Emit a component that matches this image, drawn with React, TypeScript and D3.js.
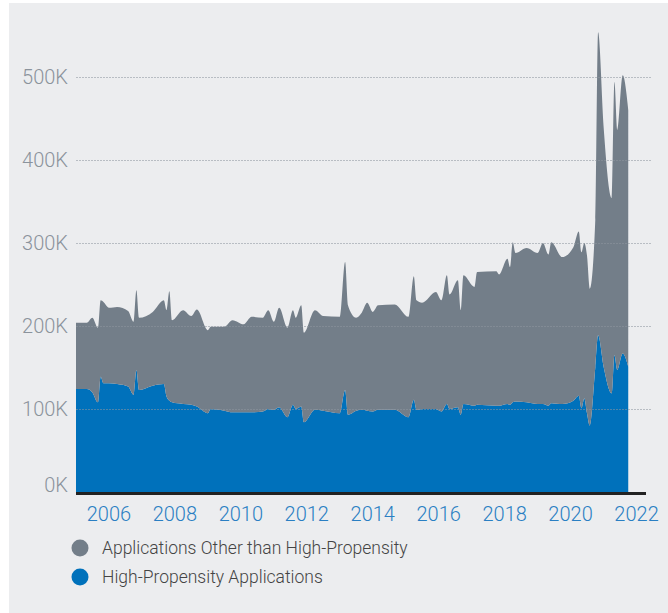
import * as d3 from "d3";
import React, { useEffect, useRef } from "react";

// monthly points (values in thousands)
const months = [
  "2005-01", "2005-05", "2005-07", "2005-09", "2005-10", "2005-11", "2006-01", "2006-04",
  "2006-08", "2006-10", "2006-11", "2006-12", "2007-05", "2007-09", "2007-10", "2007-11",
  "2007-12", "2008-04", "2008-07", "2008-09", "2009-01", "2009-02", "2009-07", "2009-10",
  "2010-02", "2010-05", "2010-09", "2010-11", "2011-01", "2011-03", "2011-06", "2011-08",
  "2011-09", "2011-11", "2011-12", "2012-04", "2012-07", "2013-01", "2013-03", "2013-04",
  "2013-07", "2013-09", "2013-11", "2014-01", "2014-03", "2014-09", "2015-02", "2015-04",
  "2015-05", "2015-07", "2015-12", "2016-02", "2016-04", "2016-05", "2016-08", "2016-09",
  "2016-10", "2017-02", "2017-03", "2017-10", "2017-11", "2018-02", "2018-03", "2018-04",
  "2018-05", "2018-09", "2019-01", "2019-03", "2019-05", "2019-06", "2019-10", "2020-02",
  "2020-04", "2020-05", "2020-06", "2020-07", "2020-08", "2020-10", "2020-11", "2021-01",
  "2021-04", "2021-05", "2021-06", "2021-08", "2021-10",
];

const highPropensity = [
  124, 124, 120, 108, 139, 131, 131, 130,
  127, 117, 147, 123, 128, 130, 115, 110,
  108, 106, 105, 103, 95, 100, 98, 96,
  96, 96, 97, 100, 99, 102, 90, 105,
  100, 103, 84, 99, 98, 95, 123, 93,
  98, 99, 98, 97, 99, 99, 90, 111,
  99, 100, 100, 97, 106, 100, 102, 93,
  106, 104, 105, 104, 104, 106, 105, 108,
  109, 108, 106, 106, 104, 107, 106, 110,
  116, 101, 113, 95, 80, 150, 189, 151,
  119, 165, 147, 167, 151,
];

const otherApplications = [
  80, 80, 90, 90, 92, 98, 91, 93,
  91, 88, 96, 87, 89, 101, 104, 132,
  99, 113, 107, 117, 100, 99, 101, 111,
  106, 115, 113, 119, 106, 120, 108, 114,
  110, 122, 108, 120, 114, 116, 154, 132,
  112, 117, 130, 120, 126, 127, 121, 149,
  132, 128, 141, 134, 155, 138, 153, 126,
  155, 143, 160, 162, 158, 175, 166, 193,
  179, 186, 182, 194, 182, 194, 177, 185,
  198, 188, 187, 190, 165, 178, 365, 289,
  235, 329, 289, 335, 309,
];

const yTicks = [0, 100, 200, 300, 400, 500];
const xTickYears = [2006, 2008, 2010, 2012, 2014, 2016, 2018, 2020, 2022];
const seriesNames = ["Applications Other than High-Propensity", "High-Propensity Applications"];

const W = 668;
const H = 613;
const FONT = "Roboto, 'DejaVu Sans', sans-serif";

const App = () => {
  const ref = useRef<SVGSVGElement>(null);

  useEffect(() => {
    const svg = d3.select(ref.current);
    svg.selectAll("*").remove();

    const parse = d3.timeParse("%Y-%m");
    const rows = months.map((m, i) => ({
      date: parse(m) as Date,
      high: highPropensity[i],
      other: otherApplications[i],
    }));

    const x = d3
      .scaleTime()
      .domain([new Date(2005, 0, 1), new Date(2022, 5, 10)])
      .range([76, 651]);
    const y = d3.scaleLinear().domain([0, 500]).range([492, 77]);

    svg.append("rect").attr("x", 9).attr("y", 3).attr("width", W - 9).attr("height", H - 3).attr("fill", "#ecedef");

    const stack = d3.stack<any>().keys(["high", "other"]);
    const layers = stack(rows);
    const area = d3
      .area<any>()
      .x((d) => x(d.data.date))
      .y0((d) => y(d[0]))
      .y1((d) => y(d[1]))
      .curve(d3.curveMonotoneX);

    const colors: Record<string, string> = { high: "#0071bb", other: "#737e89" };
    svg
      .append("g")
      .selectAll("path")
      .data(layers)
      .enter()
      .append("path")
      .attr("fill", (d) => colors[d.key])
      .attr("d", (d) => area(d as any));

    // grid on top, faint and dotted
    const grid = svg.append("g");
    grid
      .selectAll("line")
      .data(yTicks.filter((t) => t > 0))
      .enter()
      .append("line")
      .attr("x1", 76)
      .attr("x2", 651)
      .attr("y1", (d) => Math.round(y(d)) + 0.5)
      .attr("y2", (d) => Math.round(y(d)) + 0.5)
      .attr("stroke", "#8e959e")
      .attr("stroke-opacity", 0.55)
      .attr("stroke-dasharray", "2,1");

    svg
      .append("g")
      .selectAll("text")
      .data(yTicks)
      .enter()
      .append("text")
      .attr("x", 68)
      .attr("y", (d) => y(d) + (d === 0 ? -7 : 0))
      .attr("dy", "0.36em")
      .attr("text-anchor", "end")
      .attr("font-family", FONT)
      .attr("font-weight", 300)
      .attr("font-size", 20)
      .attr("fill", "#8b939c")
      .text((d) => `${d}K`);

    svg
      .append("line")
      .attr("x1", 76)
      .attr("x2", 646)
      .attr("y1", 493.5)
      .attr("y2", 493.5)
      .attr("stroke", "#222")
      .attr("stroke-width", 3);

    svg
      .append("g")
      .selectAll("text")
      .data(xTickYears)
      .enter()
      .append("text")
      .attr("x", (d) => x(new Date(d, 0, 1)))
      .attr("y", 521)
      .attr("text-anchor", "middle")
      .attr("font-family", FONT)
      .attr("font-weight", 300)
      .attr("font-size", 20)
      .attr("fill", "#2a7fc3")
      .text((d) => d);

    const legend = svg.append("g");
    const legendColors = [colors.other, colors.high];
    seriesNames.forEach((name, i) => {
      legend
        .append("circle")
        .attr("cx", 80)
        .attr("cy", 548 + i * 29)
        .attr("r", 8.5)
        .attr("fill", legendColors[i]);
      legend
        .append("text")
        .attr("x", 102)
        .attr("y", 548 + i * 29)
        .attr("dy", "0.36em")
        .attr("font-family", FONT)
        .attr("font-weight", 300)
        .attr("font-size", 17.5)
        .attr("fill", "#444")
        .text(name);
    });
  }, []);

  return (
    <svg
      ref={ref}
      width={W}
      height={H}
      style={{ position: "absolute", left: 0, top: 0, display: "block" }}
    />
  );
};

export default App;
